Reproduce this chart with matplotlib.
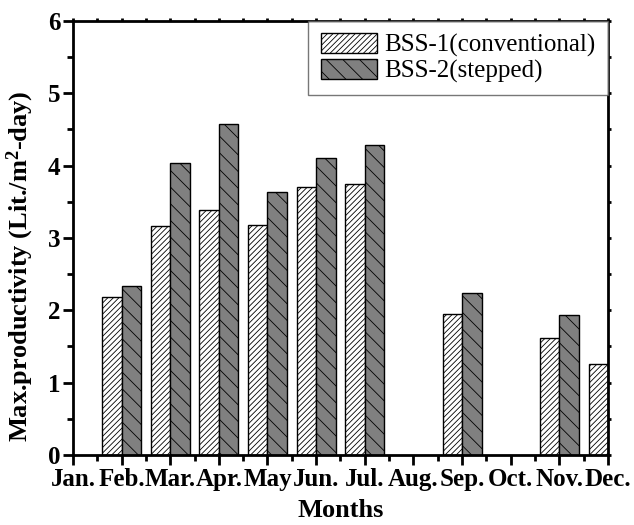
import numpy as np
import matplotlib
matplotlib.use('Agg')
import matplotlib.pyplot as plt

months = ['Jan.', 'Feb.', 'Mar.', 'Apr.', 'May', 'Jun.', 'Jul.',
          'Aug.', 'Sep.', 'Oct.', 'Nov.', 'Dec.']
bss1 = [np.nan, 2.19, 3.17, 3.39, 3.18, 3.70, 3.74, np.nan, 1.95, np.nan, 1.62, 1.26]
bss2 = [np.nan, 2.33, 4.04, 4.58, 3.64, 4.10, 4.28, np.nan, 2.24, np.nan, 1.94, np.nan]

plt.rcParams['font.family'] = ['Liberation Serif', 'DejaVu Serif']
plt.rcParams['mathtext.fontset'] = 'custom'
plt.rcParams['mathtext.rm'] = 'Liberation Serif:bold'
plt.rcParams['mathtext.default'] = 'rm'
plt.rcParams['hatch.linewidth'] = 0.6

fig = plt.figure(figsize=(6.34, 5.25), dpi=100)
ax = fig.add_axes([0.115, 0.1333, 0.844, 0.827])

x = np.arange(len(months))
w = 0.4
ax.bar(x - w / 2, bss1, w, color='white', edgecolor='black', linewidth=1,
       hatch='//////', label='BSS-1(conventional)')
ax.bar(x + w / 2, bss2, w, color='#808080', edgecolor='black', linewidth=1,
       hatch='\\\\', label='BSS-2(stepped)')

ax.set_xlim(0, 11)
ax.set_ylim(0, 6)
ax.set_xticks(x)
ax.set_xticklabels(months, fontsize=18, fontweight='bold')
ax.set_xticks(x[:-1] + 0.5, minor=True)
ax.set_yticks(range(7))
ax.set_yticklabels([str(i) for i in range(7)], fontsize=18, fontweight='bold')
ax.set_yticks(np.arange(0.5, 6, 1), minor=True)

for s in ax.spines.values():
    s.set_linewidth(2)

ax.tick_params(which='major', direction='out', length=7, width=2, pad=2)
ax.tick_params(which='minor', direction='out', length=4, width=2)
ax.tick_params(top=True, right=True, which='both')
ax.tick_params(axis='x', which='both', labeltop=False)
ax.tick_params(axis='y', which='both', labelright=False)
# small marks on the top and right axes
for t in ax.xaxis.get_major_ticks() + ax.xaxis.get_minor_ticks():
    t.tick2line.set_markersize(2)
for t in ax.yaxis.get_major_ticks() + ax.yaxis.get_minor_ticks():
    t.tick2line.set_markersize(2)

ax.set_xlabel('Months', fontsize=19, fontweight='bold', labelpad=6)
ax.set_ylabel('Max.productivity (Lit./m$^2$-day)', fontsize=19, fontweight='bold')
ax.yaxis.set_label_coords(-0.069, 0.435)

leg = ax.legend(loc='upper right', fontsize=18, frameon=True, fancybox=False,
                handlelength=2.25, handleheight=0.85, handletextpad=0.3,
                borderaxespad=0, borderpad=0.5, labelspacing=0.05)
leg.get_frame().set_edgecolor('#555555')
leg.get_frame().set_linewidth(1)

plt.savefig('out.png', dpi=100)
